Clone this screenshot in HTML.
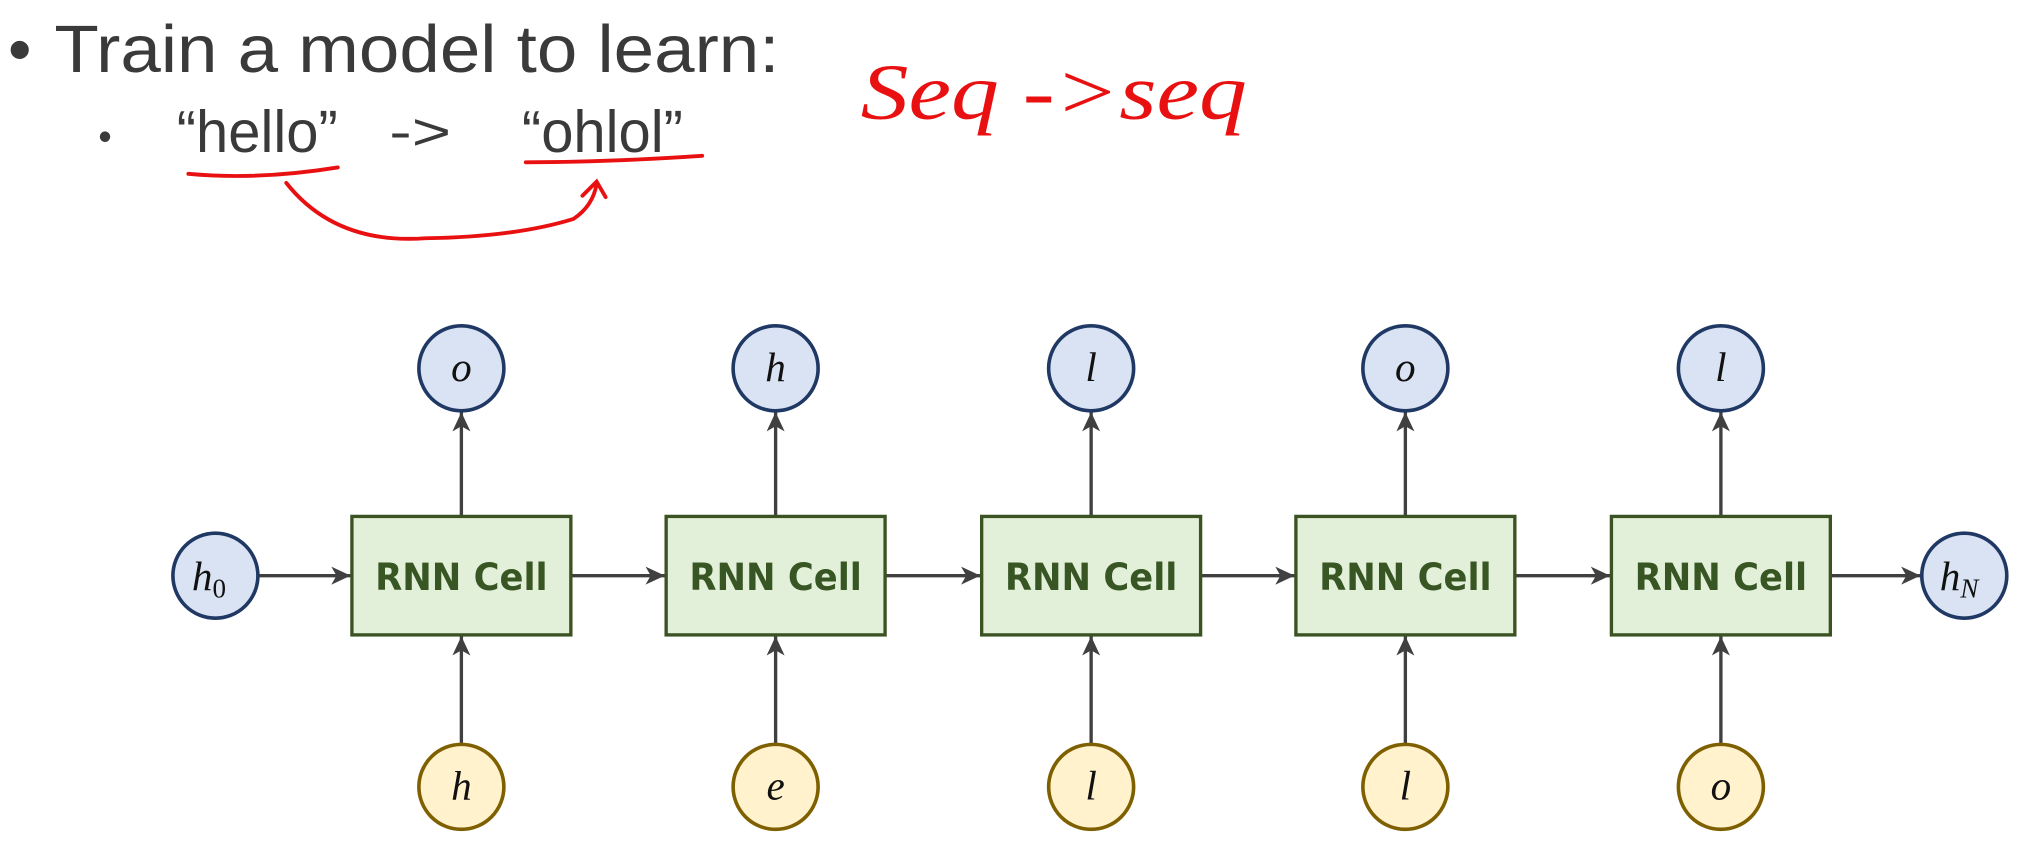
<!DOCTYPE html>
<html><head><meta charset="utf-8"><style>
html,body{margin:0;padding:0;background:#fff;}
svg{display:block}
</style></head><body>
<svg width="2020" height="868" viewBox="0 0 1568 674" xmlns="http://www.w3.org/2000/svg">
<defs>
<marker id="ar" markerWidth="16" markerHeight="16" refX="15" refY="7" orient="auto" markerUnits="userSpaceOnUse">
<path d="M0,0 L15,7 L0,14 L4,7 Z" fill="#404040"/>
</marker>
</defs>
<g font-family="'Liberation Sans','DejaVu Sans',sans-serif" fill="#3a3a3a">
<text x="6" y="56" font-size="52">•</text>
<text x="42" y="56" font-size="52" textLength="563" lengthAdjust="spacingAndGlyphs">Train a model to learn:</text>
<text x="76" y="116" font-size="30">•</text>
<text x="137" y="118" font-size="46" textLength="125" lengthAdjust="spacingAndGlyphs">“hello”</text>
<text x="302" y="116" font-size="40" textLength="48" lengthAdjust="spacingAndGlyphs">-&gt;</text>
<text x="405" y="118" font-size="46" textLength="125" lengthAdjust="spacingAndGlyphs">“ohlol”</text>
</g>
<g stroke="#e81010" stroke-width="3" fill="none" stroke-linecap="round">
<path d="M146,135 Q200,140 262,130"/>
<path d="M408,126 Q470,126 545,121"/>
<path d="M222,142 Q260,190 330,185 Q400,184 445,170 Q460,160 463,143"/>
<path d="M452,152 L463,141 L470,153"/>
</g>
<text x="668" y="92" font-family="'Liberation Serif',serif" font-style="italic" font-size="62" fill="#e81010" textLength="300" lengthAdjust="spacingAndGlyphs">Seq -&gt;seq</text>

<g stroke="#404040" stroke-width="2.6" fill="none">
<line x1="200" y1="447" x2="272" y2="447" marker-end="url(#ar)"/>
<line x1="443" y1="447" x2="516" y2="447" marker-end="url(#ar)"/>
<line x1="687" y1="447" x2="761" y2="447" marker-end="url(#ar)"/>
<line x1="932" y1="447" x2="1005" y2="447" marker-end="url(#ar)"/>
<line x1="1176" y1="447" x2="1250" y2="447" marker-end="url(#ar)"/>
<line x1="1421" y1="447" x2="1491" y2="447" marker-end="url(#ar)"/>
<line x1="358" y1="401" x2="358" y2="320" marker-end="url(#ar)"/>
<line x1="602" y1="401" x2="602" y2="320" marker-end="url(#ar)"/>
<line x1="847" y1="401" x2="847" y2="320" marker-end="url(#ar)"/>
<line x1="1091" y1="401" x2="1091" y2="320" marker-end="url(#ar)"/>
<line x1="1336" y1="401" x2="1336" y2="320" marker-end="url(#ar)"/>
<line x1="358" y1="578" x2="358" y2="494" marker-end="url(#ar)"/>
<line x1="602" y1="578" x2="602" y2="494" marker-end="url(#ar)"/>
<line x1="847" y1="578" x2="847" y2="494" marker-end="url(#ar)"/>
<line x1="1091" y1="578" x2="1091" y2="494" marker-end="url(#ar)"/>
<line x1="1336" y1="578" x2="1336" y2="494" marker-end="url(#ar)"/>
</g>
<g fill="#e2f0d9" stroke="#3b5323" stroke-width="2.6">
<rect x="273" y="401" width="170" height="92"/>
<rect x="517" y="401" width="170" height="92"/>
<rect x="762" y="401" width="170" height="92"/>
<rect x="1006" y="401" width="170" height="92"/>
<rect x="1251" y="401" width="170" height="92"/>
</g>
<g font-family="'DejaVu Sans','Liberation Sans',sans-serif" font-weight="bold" font-size="29" fill="#375623">
<text x="291" y="458" textLength="134" lengthAdjust="spacingAndGlyphs">RNN Cell</text>
<text x="535" y="458" textLength="134" lengthAdjust="spacingAndGlyphs">RNN Cell</text>
<text x="780" y="458" textLength="134" lengthAdjust="spacingAndGlyphs">RNN Cell</text>
<text x="1024" y="458" textLength="134" lengthAdjust="spacingAndGlyphs">RNN Cell</text>
<text x="1269" y="458" textLength="134" lengthAdjust="spacingAndGlyphs">RNN Cell</text>
</g>
<g fill="#dae3f3" stroke="#1f3864" stroke-width="2.8">
<circle cx="167" cy="447" r="33"/>
<circle cx="1525" cy="447" r="33"/>
<circle cx="358" cy="286" r="33"/>
<circle cx="602" cy="286" r="33"/>
<circle cx="847" cy="286" r="33"/>
<circle cx="1091" cy="286" r="33"/>
<circle cx="1336" cy="286" r="33"/>
</g>
<g fill="#fff2cc" stroke="#7f6000" stroke-width="2.8">
<circle cx="358" cy="611" r="33"/>
<circle cx="602" cy="611" r="33"/>
<circle cx="847" cy="611" r="33"/>
<circle cx="1091" cy="611" r="33"/>
<circle cx="1336" cy="611" r="33"/>
</g>
<g font-family="'Liberation Serif',serif" font-style="italic" font-size="32" fill="#111" text-anchor="middle">
<text x="358" y="296">o</text>
<text x="602" y="296">h</text>
<text x="847" y="296">l</text>
<text x="1091" y="296">o</text>
<text x="1336" y="296">l</text>
<text x="358" y="621">h</text>
<text x="602" y="621">e</text>
<text x="847" y="621">l</text>
<text x="1091" y="621">l</text>
<text x="1336" y="621">o</text>
<text x="162" y="458">h<tspan font-style="normal" font-size="21" dy="6">0</tspan></text>
<text x="1521" y="458">h<tspan font-size="21" dy="6">N</tspan></text>
</g>
</svg>
</body></html>
